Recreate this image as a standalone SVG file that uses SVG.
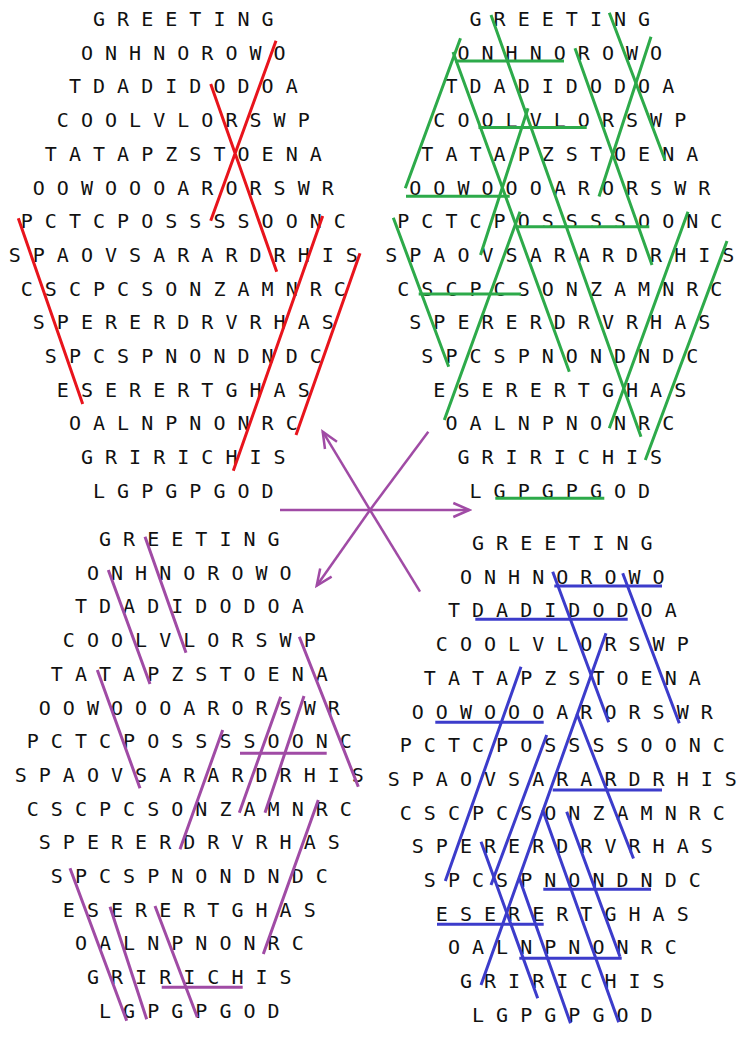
<svg xmlns="http://www.w3.org/2000/svg" width="752" height="1046" viewBox="0 0 752 1046">
<style>
.red{stroke:#E8141C;stroke-width:3;fill:none}
.grn{stroke:#2DAA4A;stroke-width:3;fill:none}
.pur{stroke:#A04BA5;stroke-width:3;fill:none}
.blu{stroke:#3C3CCB;stroke-width:3;fill:none}
.arr{stroke:#A04BA5;stroke-width:2.5;fill:none}
</style>
<defs>
<marker id="ah" markerWidth="22" markerHeight="22" refX="19" refY="11" orient="auto" markerUnits="userSpaceOnUse">
<path d="M3,4 L19,11 L3,18" fill="none" stroke="#A04BA5" stroke-width="2.5"/>
</marker>
<g id="grid" font-family="'DejaVu Sans Mono','Liberation Mono',monospace" font-size="20" fill="#111" text-anchor="middle" xml:space="preserve">
<text x="183.3" y="26">G R E E T I N G</text>
<text x="183.3" y="59.7">O N H N O R O W O</text>
<text x="183.3" y="93.4">T D A D I D O D O A</text>
<text x="183.3" y="127.1">C O O L V L O R S W P</text>
<text x="183.3" y="160.8">T A T A P Z S T O E N A</text>
<text x="183.3" y="194.5">O O W O O O A R O R S W R</text>
<text x="183.3" y="228.2">P C T C P O S S S S O O N C</text>
<text x="183.3" y="261.9">S P A O V S A R A R D R H I S</text>
<text x="183.3" y="295.6">C S C P C S O N Z A M N R C</text>
<text x="183.3" y="329.3">S P E R E R D R V R H A S</text>
<text x="183.3" y="363">S P C S P N O N D N D C</text>
<text x="183.3" y="396.7">E S E R E R T G H A S</text>
<text x="183.3" y="430.4">O A L N P N O N R C</text>
<text x="183.3" y="464.1">G R I R I C H I S</text>
<text x="183.3" y="497.8">L G P G P G O D</text>
</g>
</defs>
<g id="grid-top-left"><use href="#grid"/></g>
<g id="grid-top-right" transform="translate(376.5,0)"><use href="#grid"/></g>
<g id="grid-bottom-left" transform="translate(6,520)"><use href="#grid"/></g>
<g id="grid-bottom-right" transform="translate(379,524)"><use href="#grid"/></g>
<g id="connectors">
<g id="red-lines" class="red">
<path d="M276,40.7L210.7,220.7M210.7,84L276.7,271.7M18.3,218.3L82.7,404M322.7,216L233.3,470.7M360,253.3L296,435"/>
</g>
<g id="green-lines" class="grn">
<path d="M455,61H564M478.5,127.5H586.7M406,196.3H509.7M516.3,226.7H649.3M418.7,294H521M495.3,498.3H604.3"/>
<path d="M491,15L641,436.7M453,52L569.3,371.7M575,48.3L652,265M609.3,12.7L665,160M393.3,217.7L448.7,366.7"/>
<path d="M460.5,38.3L405.3,188.3M651,36.7L599,196.5M528,108.3L480.5,255M520,211.7L444.3,420M688,211.7L609.3,428.3M727,241L645.3,460"/>
</g>
<g id="purple-lines" class="pur">
<path d="M145,536.7L186,652.7M108.3,570L150,684M97.3,670L140,788.3M299.3,636.7L358.3,786.7M70,868.3L126.7,1020.7M110,906.7L146.7,1019.3M155,906L197.3,1017.3"/>
<path d="M222.7,730L180,849.3M280.7,696.7L239.3,812.7M304,696L265,812.7M318.3,800L263.3,954"/>
<path d="M240,753.3H326.7M161.7,987.3H242.7"/>
</g>
<g id="blue-lines" class="blu">
<path d="M554.3,586H662M475.3,619.3H627.7M435.3,722.3H543.7M552.7,790H662M543.3,889.3H651M437,924.3H543.7M519.3,958.3H621.7"/>
<path d="M552.7,571.7L608.7,722.3M622.7,573.3L679.3,723.3M577,714L633.5,858.5M481,841.7L537.7,998.3M542.7,810L618.7,1022.3M519.3,878.3L570.5,1023.3M566.7,811.7L620,956.7"/>
<path d="M606,633.3L481,985M521,666.7L445.3,881M546.7,735L491,885"/>
</g>
<g id="center-arrows" class="arr">
<path d="M370,510L322.7,431.7" marker-end="url(#ah)"/>
<path d="M370,510L428.3,431.7"/>
<path d="M280,510H469.3" marker-end="url(#ah)"/>
<path d="M370,510L316.7,585.7" marker-end="url(#ah)"/>
<path d="M370,510L420,591.7"/>
</g>
</g>
</svg>
